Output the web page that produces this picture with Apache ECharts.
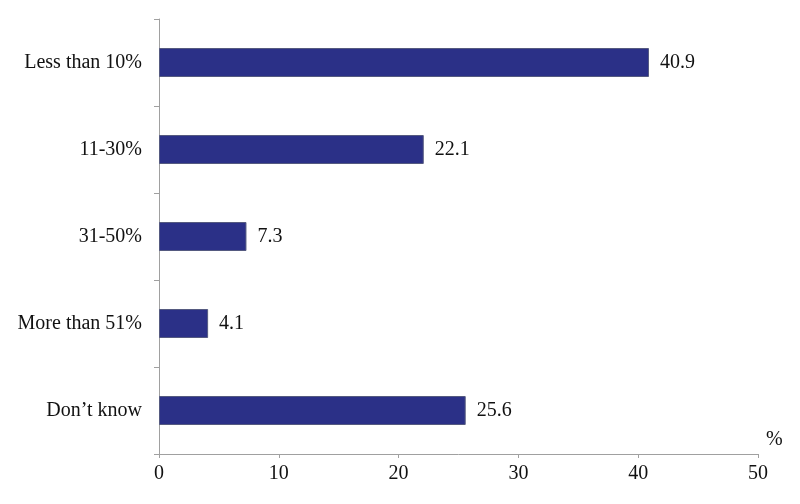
<!DOCTYPE html>
<html>
<head>
<meta charset="utf-8">
<script src="https://cdn.jsdelivr.net/npm/echarts@6/dist/echarts.min.js"></script>
<style>
  html, body { margin: 0; padding: 0; background: #fff; }
  #chart { width: 800px; height: 504px; }
</style>
</head>
<body>
<div id="chart"></div>
<script>
var categories = ["Less than 10%", "11-30%", "31-50%", "More than 51%", "Don\u2019t know"];
var values = [40.9, 22.1, 7.3, 4.1, 25.6];
var xTicks = [0, 10, 20, 30, 40, 50];

var chart = echarts.init(document.getElementById("chart"));
var font = "'Liberation Serif', 'Times New Roman', serif";
var axisGrey = "#a0a0a0";

var option = {
  animation: false,
  textStyle: { fontFamily: font },
  grid: { left: 159, right: 42, top: 19, bottom: 50, containLabel: false },
  xAxis: {
    type: "value",
    min: xTicks[0],
    max: xTicks[xTicks.length - 1],
    interval: 10,
    name: "%",
    nameLocation: "end",
    nameGap: 8,
    nameTextStyle: { fontFamily: font, fontSize: 20, color: "#111", verticalAlign: "bottom", padding: [0, 0, 4, 0] },
    axisLine: { show: true, lineStyle: { color: axisGrey, width: 1 } },
    axisTick: { show: true, inside: false, length: 4, lineStyle: { color: axisGrey } },
    axisLabel: { fontFamily: font, fontSize: 20, color: "#111", margin: 10 },
    splitLine: { show: false }
  },
  yAxis: {
    type: "category",
    inverse: true,
    data: categories,
    axisLine: { show: true, lineStyle: { color: axisGrey, width: 1 } },
    axisTick: { show: true, length: 5, alignWithLabel: false, lineStyle: { color: axisGrey } },
    axisLabel: { fontFamily: font, fontSize: 20, color: "#111", margin: 17 }
  },
  series: [{
    type: "bar",
    data: values,
    barWidth: 29,
    itemStyle: { color: "#2B3087", borderColor: "#555a80", borderWidth: 1 },
    label: {
      show: true,
      position: "right",
      distance: 11,
      fontFamily: font,
      fontSize: 20,
      color: "#111",
      formatter: function (p) { return p.value.toFixed(1); }
    }
  }]
};

chart.setOption(option);
</script>
</body>
</html>
